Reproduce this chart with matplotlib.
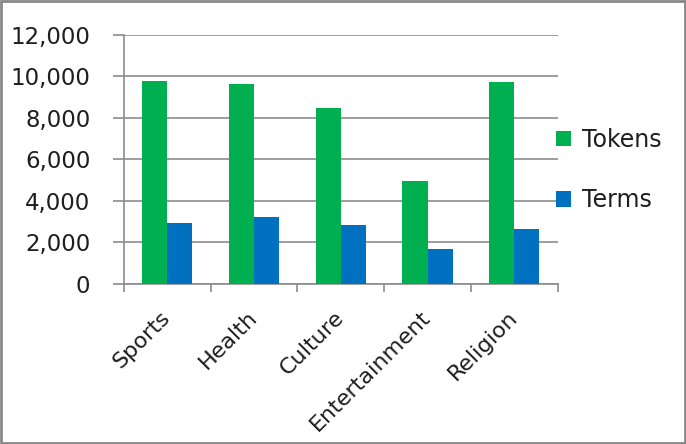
import numpy as np
import matplotlib.pyplot as plt
from matplotlib.patches import Rectangle

categories = ['Sports', 'Health', 'Culture', 'Entertainment', 'Religion']
tokens = [9780, 9630, 8490, 4950, 9720]
terms = [2930, 3210, 2840, 1700, 2630]

green = '#00b050'
blue = '#0070c0'
grey = '#8c8c8c'
txt = '#1e1e1e'

plt.rcParams['font.family'] = ['DejaVu Sans']

fig = plt.figure(figsize=(6.86, 4.44), dpi=100)
ax = fig.add_axes([0.1805, 0.3604, 0.6325, 0.5614])

x = np.arange(len(categories))
w = 0.29
ax.bar(x - w / 2, tokens, w, color=green, label='Tokens', zorder=3)
ax.bar(x + w / 2, terms, w, color=blue, label='Terms', zorder=3)

ax.set_xlim(-0.5, len(categories) - 0.5)
ax.set_ylim(0, 12000)
ax.set_yticks(range(0, 12001, 2000))
ax.set_yticklabels([f'{v:,}' for v in range(0, 12001, 2000)])
ax.yaxis.grid(True, color=grey, linewidth=1.2, zorder=0)

# ticks between categories, labels centred on bars
ax.set_xticks(np.arange(-0.5, len(categories), 1.0))
ax.set_xticklabels([])
ax.set_xticks(x, minor=True)
ax.set_xticklabels(categories, minor=True, rotation=45, ha='right', va='center',
                   rotation_mode='anchor', fontsize=16, color=txt)
ax.tick_params(axis='x', which='minor', length=0, pad=22)
ax.tick_params(axis='x', which='major', length=6, color=grey, width=1.2)
ax.tick_params(axis='y', length=8, color=grey, width=1.2, labelsize=16.5,
               labelcolor=txt, pad=16)

for s in ['top', 'right']:
    ax.spines[s].set_visible(False)
ax.spines['left'].set_color(grey)
ax.spines['bottom'].set_color(grey)
ax.spines['left'].set_linewidth(1.2)
ax.spines['bottom'].set_linewidth(1.2)

leg = ax.legend(loc='center left', bbox_to_anchor=(0.996, 0.457), frameon=False,
                fontsize=17, handlelength=0.65, handleheight=0.65, borderpad=0,
                borderaxespad=0, labelspacing=1.55, handletextpad=0.45,
                labelcolor=txt)

fig.patches.append(Rectangle((0.002, 0.003), 0.996, 0.994, transform=fig.transFigure,
                             fill=False, edgecolor='#888888', linewidth=2))

fig.savefig('out.png', dpi=100)
